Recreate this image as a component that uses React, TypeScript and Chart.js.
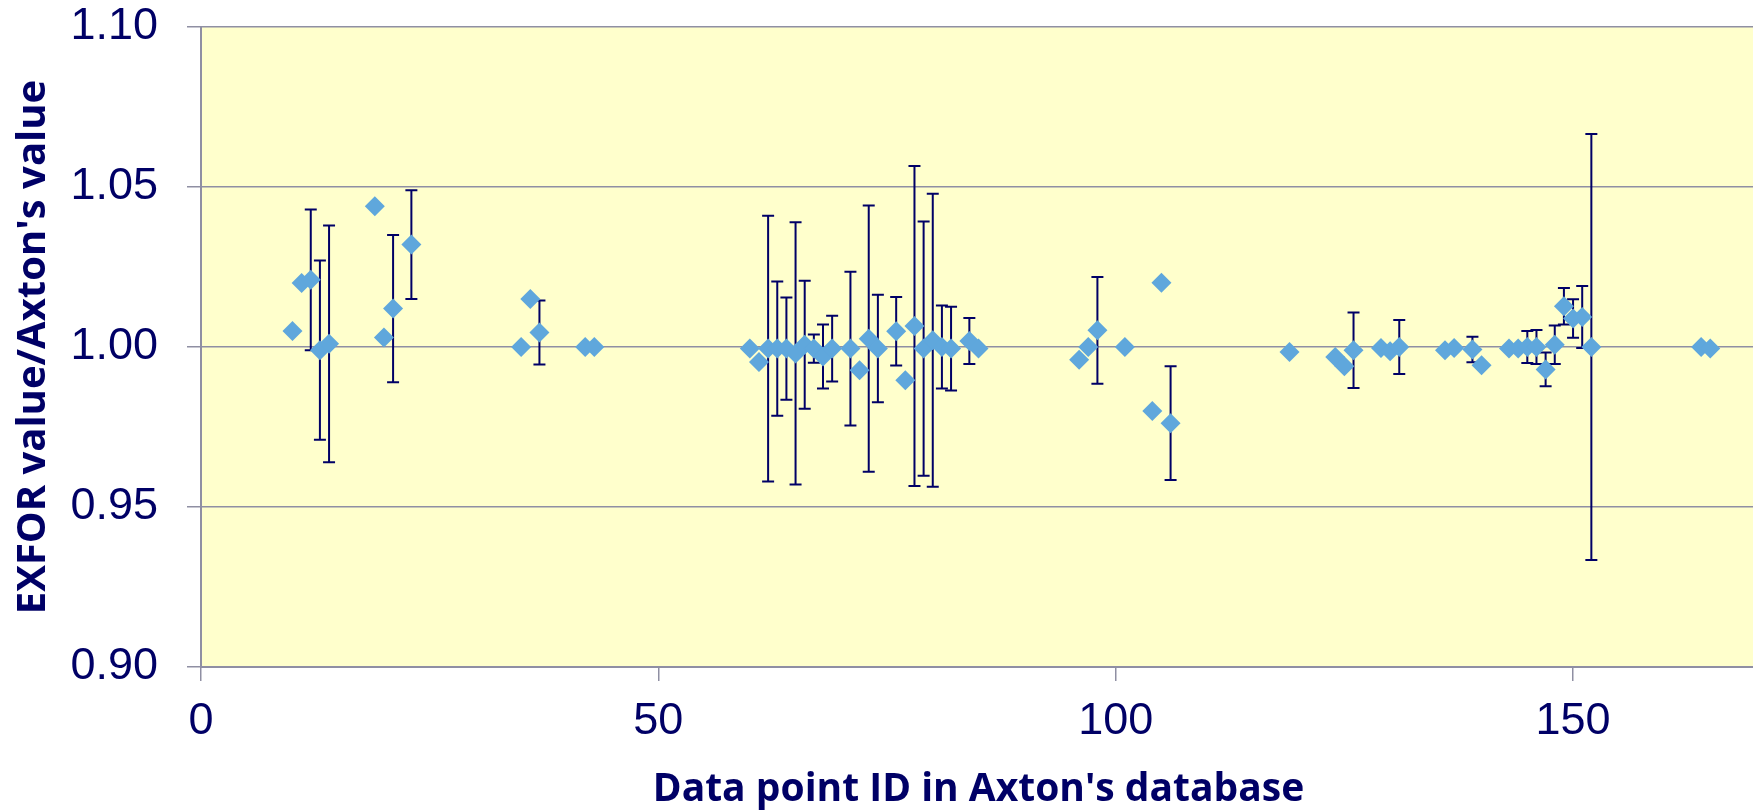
import React, { useEffect, useRef } from "react";
import { Chart, registerables } from "chart.js";

Chart.register(...registerables);

// Data point IDs (x), ratios EXFOR/Axton (y), and uncertainties (null = no error bar)
const pointIds: number[] = [
  10, 11, 12, 13, 14, 19, 20, 21, 23,
  35, 36, 37, 42, 43,
  60, 61, 62, 63, 64, 65, 66, 67, 68, 69, 71, 72, 73, 74, 76, 77, 78, 79, 80, 81, 82, 84, 85,
  96, 97, 98, 101, 104, 105, 106,
  119, 124, 125, 126, 129, 130, 131, 136, 137, 139, 140,
  143, 144, 145, 146, 147, 148, 149, 150, 151, 152,
  164, 165,
];
const ratios: number[] = [
  1.005, 1.020, 1.021, 0.999, 1.001, 1.044, 1.003, 1.012, 1.032,
  1.000, 1.015, 1.0045, 1.000, 1.000,
  0.9995, 0.9953, 0.9995, 0.9995, 0.9995, 0.998, 1.0007, 0.9995, 0.997, 0.9995, 0.9995, 0.9927, 1.0026, 0.9995, 1.0049, 0.9896, 1.0066, 0.9995, 1.0021, 1.000, 0.9995, 1.0019, 0.9995,
  0.996, 1.000, 1.0052, 1.000, 0.980, 1.0201, 0.9762,
  0.9984, 0.9969, 0.994, 0.999, 0.9997, 0.9987, 1.000, 0.999, 0.9997, 0.9992, 0.9943,
  0.9995, 0.9995, 1.000, 1.000, 0.993, 1.0007, 1.0127, 1.0089, 1.0094, 1.000,
  1.000, 0.9995,
];
const errors: (number | null)[] = [
  null, null, 0.022, 0.028, 0.037, null, null, 0.023, 0.017,
  null, null, 0.010, null, null,
  null, null, 0.0415, 0.021, 0.016, 0.041, 0.020, 0.0044, 0.010, 0.0103, 0.024, null, 0.0416, 0.0168, 0.0107, null, 0.050, 0.0397, 0.0458, 0.013, 0.0131, 0.0072, null,
  null, null, 0.0167, null, null, null, 0.0178,
  null, null, null, 0.0118, null, null, 0.0084, null, null, 0.004, null,
  null, null, 0.005, 0.0053, 0.0053, 0.006, 0.0057, 0.006, 0.0097, 0.0666,
  null, null,
];

const yTickValues: number[] = [0.9, 0.95, 1.0, 1.05, 1.1];
const xTickValues: number[] = [0, 50, 100, 150];

const xTitle = "Data point ID in Axton's database";
const yTitle = "EXFOR value/Axton's value";

const NAVY = "#000066";
const GRID = "#8f8fa3";
const PLOT_BG = "#ffffcc";
const MARKER = "#5fa7dc";

const bgPlugin = {
  id: "plotBg",
  beforeDraw(chart: any) {
    const { ctx, chartArea } = chart;
    ctx.save();
    ctx.fillStyle = PLOT_BG;
    ctx.fillRect(chartArea.left, chartArea.top, chartArea.right - chartArea.left, chartArea.bottom - chartArea.top);
    ctx.restore();
  },
};

const errorBarPlugin = {
  id: "errorBars",
  beforeDatasetsDraw(chart: any) {
    const { ctx, scales } = chart;
    const xs = scales.x;
    const ys = scales.y;
    ctx.save();
    ctx.strokeStyle = NAVY;
    ctx.lineWidth = 2;
    const cap = 6;
    for (let i = 0; i < pointIds.length; i++) {
      const e = errors[i];
      if (e == null) continue;
      const px = xs.getPixelForValue(pointIds[i]);
      const yTop = ys.getPixelForValue(ratios[i] + e);
      const yBot = ys.getPixelForValue(ratios[i] - e);
      ctx.beginPath();
      ctx.moveTo(px, yTop);
      ctx.lineTo(px, yBot);
      ctx.moveTo(px - cap, yTop);
      ctx.lineTo(px + cap, yTop);
      ctx.moveTo(px - cap, yBot);
      ctx.lineTo(px + cap, yBot);
      ctx.stroke();
    }
    ctx.restore();
  },
};

export default function App() {
  const canvasRef = useRef<HTMLCanvasElement | null>(null);

  useEffect(() => {
    document.body.style.margin = "0";
    const canvas = canvasRef.current;
    if (!canvas) return;
    const data = pointIds.map((x, i) => ({ x, y: ratios[i] }));
    const chart = new Chart(canvas, {
      type: "scatter",
      data: {
        datasets: [
          {
            label: "ratio",
            data,
            pointStyle: "rectRot",
            pointRadius: 10,
            pointHoverRadius: 10,
            pointBackgroundColor: MARKER,
            pointBorderColor: MARKER,
            pointBorderWidth: 0,
            showLine: false,
          },
        ],
      },
      options: {
        animation: false,
        responsive: false,
        events: [],
        layout: { autoPadding: false, padding: { top: 27, left: 0, right: 0, bottom: 0 } },
        plugins: {
          legend: { display: false },
          tooltip: { enabled: false },
          title: { display: false },
        },
        scales: {
          x: {
            type: "linear",
            min: 0,
            max: 170,
            afterFit(scale: any) {
              scale.height = 143;
              scale.paddingLeft = 0;
              scale.paddingRight = 0;
            },
            afterBuildTicks(scale: any) {
              scale.ticks = xTickValues.map((v) => ({ value: v }));
            },
            ticks: {
              includeBounds: false,
              color: NAVY,
              padding: 14,
              maxRotation: 0,
              font: { family: "'Liberation Sans', Arial, sans-serif", size: 45 },
              callback: (v: any) => String(v),
            },
            grid: {
              drawOnChartArea: false,
              drawTicks: true,
              tickLength: 14,
              color: GRID,
              lineWidth: 1.5,
            },
            border: { display: true, color: GRID, width: 2 },
            title: {
              display: true,
              text: xTitle,
              color: NAVY,
              font: { family: "'Open Sans', sans-serif", size: 39, weight: "bold", lineHeight: 1 },
              padding: { top: 0, bottom: 1 },
            },
          },
          y: {
            type: "linear",
            min: 0.9,
            max: 1.1,
            afterFit(scale: any) {
              scale.width = 201;
              scale.paddingTop = 0;
              scale.paddingBottom = 0;
            },
            afterBuildTicks(scale: any) {
              scale.ticks = yTickValues.map((v) => ({ value: v }));
            },
            ticks: {
              includeBounds: false,
              color: NAVY,
              padding: 29,
              font: { family: "'Liberation Sans', Arial, sans-serif", size: 45 },
              callback: (v: any) => Number(v).toFixed(2),
            },
            grid: {
              drawOnChartArea: true,
              drawTicks: true,
              tickLength: 14,
              color: GRID,
              lineWidth: 1.5,
            },
            border: { display: true, color: GRID, width: 2 },
            title: {
              display: true,
              text: yTitle,
              color: NAVY,
              font: { family: "'Open Sans', sans-serif", size: 40, weight: "bold", lineHeight: 1 },
              padding: { top: 14, bottom: 0 },
            },
          },
        },
      },
      plugins: [bgPlugin, errorBarPlugin],
    });
    return () => chart.destroy();
  }, []);

  return (
    <div style={{ position: "fixed", left: 0, top: 0, width: 1753, height: 810, overflow: "hidden", background: "#fff" }}>
      <canvas ref={canvasRef} width={1756} height={810} style={{ display: "block", width: 1756, height: 810 }} />
    </div>
  );
}
